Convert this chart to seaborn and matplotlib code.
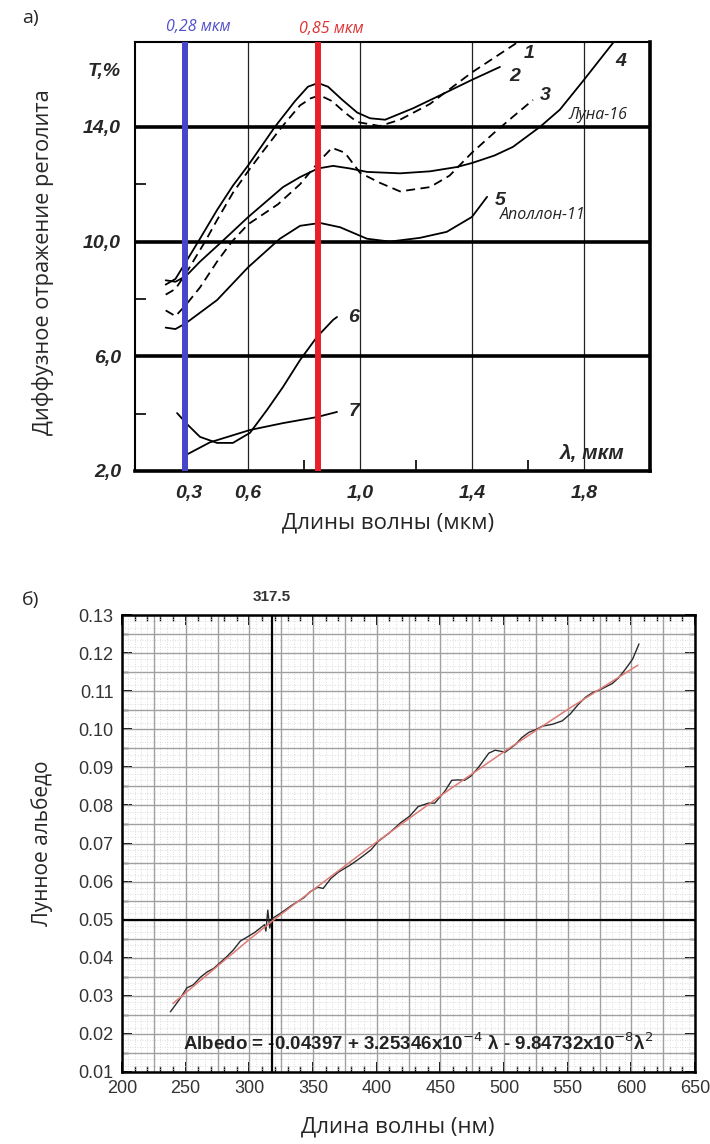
import numpy as np
import matplotlib
matplotlib.use("Agg")
import matplotlib.pyplot as plt
import seaborn as sns

# ---- panel a) : diffuse reflectance of regolith, wavelength in um, T in %
c1_x = [0.18, 0.23, 0.284, 0.381, 0.442, 0.523, 0.60, 0.65, 0.721, 0.786, 0.825, 0.857, 0.90, 0.946, 0.99, 1.071, 1.143, 1.25, 1.40, 1.56]
c1_y = [8.15, 8.35, 8.9, 10.0, 10.75, 11.7, 12.45, 13.1, 14.0, 14.75, 15.0, 15.1, 14.9, 14.5, 14.17, 14.03, 14.25, 14.8, 15.9, 16.93]

c2_x = [0.18, 0.23, 0.284, 0.355, 0.442, 0.523, 0.60, 0.65, 0.696, 0.768, 0.814, 0.85, 0.886, 0.936, 0.99, 1.036, 1.09, 1.19, 1.286, 1.40, 1.50]
c2_y = [8.5, 8.7, 9.3, 10.1, 11.1, 11.95, 12.65, 13.35, 14.0, 14.9, 15.4, 15.53, 15.4, 14.95, 14.5, 14.3, 14.25, 14.65, 15.1, 15.64, 16.09]

c3_x = [0.18, 0.23, 0.284, 0.355, 0.442, 0.518, 0.60, 0.707, 0.786, 0.85, 0.90, 0.946, 1.0, 1.071, 1.143, 1.25, 1.32, 1.40, 1.48, 1.546, 1.618]
c3_y = [7.6, 7.4, 7.8, 8.4, 9.3, 10.0, 10.6, 11.3, 12.0, 12.75, 13.27, 13.1, 12.4, 12.05, 11.75, 11.9, 12.3, 13.1, 13.8, 14.35, 14.94]

c4_x = [0.18, 0.23, 0.284, 0.355, 0.467, 0.60, 0.725, 0.786, 0.85, 0.904, 0.964, 1.025, 1.143, 1.25, 1.346, 1.40, 1.48, 1.546, 1.643, 1.714, 1.80, 1.904]
c4_y = [8.65, 8.6, 8.8, 9.3, 10.0, 10.85, 11.9, 12.25, 12.55, 12.64, 12.55, 12.43, 12.38, 12.45, 12.6, 12.74, 13.0, 13.3, 14.0, 14.6, 15.64, 16.93]

c5_x = [0.18, 0.23, 0.284, 0.442, 0.60, 0.714, 0.786, 0.857, 0.929, 1.025, 1.107, 1.214, 1.31, 1.40, 1.454]
c5_y = [7.0, 6.95, 7.16, 7.96, 9.1, 10.1, 10.55, 10.65, 10.5, 10.1, 10.0, 10.13, 10.34, 10.86, 11.56]

c6_x = [0.238, 0.294, 0.355, 0.442, 0.523, 0.607, 0.668, 0.725, 0.786, 0.846, 0.904, 0.918]
c6_y = [4.02, 3.6, 3.19, 2.98, 2.98, 3.33, 4.13, 4.93, 5.87, 6.67, 7.27, 7.37]

c7_x = [0.284, 0.406, 0.607, 0.725, 0.846, 0.918]
c7_y = [2.56, 3.0, 3.43, 3.67, 3.88, 4.06]

curve_names = ["1", "2", "3", "4", "5", "6", "7"]
name_x = [1.585, 1.535, 1.643, 1.911, 1.482, 0.957, 0.961]
name_y = [16.55, 15.75, 15.1, 16.27, 11.45, 7.34, 4.06]

a_xticks = [0.3, 0.6, 1.0, 1.4, 1.8]
a_xlabels = ["0,3", "0,6", "1,0", "1,4", "1,8"]
a_yticks = [2, 6, 10, 14, 16]
a_ylabels = ["2,0", "6,0", "10,0", "14,0", "T,%"]
marks_um = [0.28, 0.85]

# ---- panel b) : lunar albedo vs wavelength (nm)
meas_nm = [238, 245, 251, 256, 262, 267, 272, 277, 282, 287.6, 293, 298.6, 304, 309, 312, 313, 314.5, 316, 318,
           325, 333, 343, 348, 353.8, 358, 364, 370, 380, 388, 395.7, 401, 410, 419, 426, 432.6, 440.7, 445.6,
           453.5, 459, 464, 469, 474, 480, 488, 493, 501, 509, 514, 519.6, 525, 530, 538, 545.7, 552, 558,
           564, 570, 575, 585, 590, 595.4, 601, 606]
meas_alb = [0.0258, 0.0290, 0.0321, 0.0329, 0.0350, 0.0363, 0.0372, 0.0387, 0.0402, 0.0421, 0.0444, 0.0455,
            0.0466, 0.0479, 0.0487, 0.0470, 0.0525, 0.0478, 0.0503, 0.0518, 0.0537, 0.0558, 0.0574, 0.0585,
            0.0582, 0.0608, 0.0625, 0.0645, 0.0664, 0.0684, 0.0705, 0.0728, 0.0755, 0.0772, 0.0797, 0.0806,
            0.0806, 0.0837, 0.0866, 0.0867, 0.0866, 0.0877, 0.0900, 0.0937, 0.0945, 0.0940, 0.0960, 0.0978,
            0.0992, 0.0999, 0.1008, 0.1013, 0.1022, 0.1040, 0.1064, 0.1084, 0.1097, 0.1103, 0.1120, 0.1135,
            0.1158, 0.1184, 0.1224]
fit_nm = [240, 300, 317.5, 350, 400, 450, 500, 550, 605]
fit_alb = [0.0280, 0.0448, 0.0495, 0.0578, 0.0704, 0.0825, 0.0941, 0.1052, 0.1168]
cross_nm = 317.5
cross_alb = 0.05

sns.set_style("white")
plt.rcParams['font.family'] = ['Open Sans', 'DejaVu Sans']
narrow = ['Liberation Sans Narrow', 'Liberation Sans', 'DejaVu Sans']
arial = ['Liberation Sans', 'DejaVu Sans']

fig = plt.figure(figsize=(7.1, 11.44), dpi=100)
ax1 = fig.add_axes([135 / 710, 1 - 471 / 1144, 515 / 710, 429 / 1144])
ax2 = fig.add_axes([122 / 710, 1 - 1072 / 1144, 573 / 710, 457 / 1144])

# the scanned graph squeezes the axis below 0.6 um
def fwd(x):
    return np.interp(x, [0.0, 0.6, 3.0], [0.18, 0.6, 3.0])

def inv(u):
    return np.interp(u, [0.18, 0.6, 3.0], [0.0, 0.6, 3.0])

ax1.set_xscale('function', functions=(fwd, inv))

curves = [(c1_x, c1_y, True), (c2_x, c2_y, False), (c3_x, c3_y, True), (c4_x, c4_y, False),
          (c5_x, c5_y, False), (c6_x, c6_y, False), (c7_x, c7_y, False)]
for xs, ys, dashed in curves:
    sns.lineplot(x=xs, y=ys, ax=ax1, color='black', lw=1.3,
                 linestyle=(0, (5, 3)) if dashed else '-', zorder=4)

for h in [6, 10, 14]:
    ax1.axhline(h, color='black', lw=2.6, zorder=3)
for v in [0.6, 1.0, 1.4, 1.8]:
    ax1.axvline(v, color='#222222', lw=0.9, zorder=2)

ax1.axvline(marks_um[0], color='#4646c8', lw=4.3, zorder=5)
ax1.axvline(marks_um[1], color='#e8202a', lw=4.3, zorder=5)
ax1.annotate("0,28 мкм", (marks_um[0], 1.035), xycoords=ax1.get_xaxis_transform(),
             xytext=(9.5, 0), textcoords='offset points', color='#5050c8',
             style='italic', fontsize=11.5, ha='center', va='center')
ax1.annotate("0,85 мкм", (marks_um[1], 1.03), xycoords=ax1.get_xaxis_transform(),
             xytext=(9.5, 0), textcoords='offset points', color='#e03030',
             style='italic', fontsize=11.5, ha='center', va='center')

for name, nx, ny in zip(curve_names, name_x, name_y):
    ax1.text(nx, ny, name, family=narrow, weight='bold', style='italic', fontsize=14,
             ha='left', va='center')
ax1.text(1.85, 14.42, "Луна-16", style='italic', fontsize=11.5, ha='center', va='center', color='#222222')
ax1.text(1.654, 10.93, "Аполлон-11", style='italic', fontsize=11.5, ha='center', va='center', color='#222222')
ax1.text(1.83, 2.6, "λ, мкм", family=narrow, weight='bold', style='italic', fontsize=15,
         ha='center', va='center')

ax1.set_xlim(0.0234, 2.036)
ax1.set_ylim(2, 16.96)
ax1.set_xticks(a_xticks)
ax1.set_xticklabels(a_xlabels, family=narrow, weight='bold', style='italic', fontsize=14)
ax1.set_yticks(a_yticks)
ax1.set_yticklabels(a_ylabels, family=narrow, weight='bold', style='italic', fontsize=14)
ax1.set_xticks([0.8, 1.2, 1.6], minor=True)
ax1.set_yticks([4, 8, 12, 16], minor=True)
ax1.tick_params(which='major', length=0, pad=10)
ax1.tick_params(which='minor', direction='in', length=8, width=1.2, color='black')
ax1.tick_params(axis='x', which='minor', bottom=True)
ax1.tick_params(axis='y', which='minor', left=True)
for side, w in [('left', 1.5), ('top', 1.5), ('bottom', 2.6), ('right', 2.6)]:
    ax1.spines[side].set_color('black')
    ax1.spines[side].set_linewidth(w)
ax1.set_xlabel("")
ax1.set_ylabel("")

fig.text(22 / 710, 1 - 18 / 1144, "а)", fontsize=14, ha='left', va='center')
fig.text(43 / 710, 1 - 262 / 1144, "Диффузное отражение реголита", rotation=90, fontsize=15.7,
         ha='center', va='center')
fig.text(388 / 710, 1 - 523 / 1144, "Длины волны (мкм)", fontsize=16, ha='center', va='center')

# ---- panel b)
for v in np.arange(200, 651, 5):
    ax2.axvline(v, color='#d2d2d2', lw=0.6, ls=(0, (1, 2)), zorder=1)
for h in np.arange(0.01, 0.1301, 0.005 / 3):
    ax2.axhline(h, color='#d2d2d2', lw=0.6, ls=(0, (1, 2)), zorder=1)
for v in np.arange(200, 651, 25):
    ax2.axvline(v, color='#a0a0a0', lw=1.0, zorder=1)
for h in np.arange(0.01, 0.1301, 0.005):
    ax2.axhline(h, color='#a0a0a0', lw=1.0, zorder=1)

ax2.text(248, 0.0176, r"Albedo = -0.04397 + 3.25346x10$^{-4}$ λ - 9.84732x10$^{-8}$λ$^{2}$",
         family=arial, weight='bold', fontsize=13.5, color='#222222', ha='left', va='center', zorder=2)

ax2.axvline(cross_nm, color='black', lw=1.6, zorder=3)
ax2.axhline(cross_alb, color='black', lw=1.6, zorder=3)
sns.lineplot(x=meas_nm, y=meas_alb, ax=ax2, color='#2a2a2a', lw=1.0, zorder=4)
sns.lineplot(x=fit_nm, y=fit_alb, ax=ax2, color='#e07a74', lw=1.1, zorder=5)

ax2.text(cross_nm, 1.04, "317.5", transform=ax2.get_xaxis_transform(), family=arial, weight='bold',
         fontsize=11, color='#333333', ha='center', va='center')

ax2.set_xlim(200, 650)
ax2.set_ylim(0.01, 0.13)
ax2.set_xticks(np.arange(200, 651, 50))
ax2.set_xticks(np.arange(200, 651, 10), minor=True)
ax2.set_yticks(np.arange(0.01, 0.1301, 0.01))
ax2.set_yticks(np.arange(0.01, 0.1301, 0.005), minor=True)
ax2.set_xticklabels([f"{v:d}" for v in range(200, 651, 50)], family=arial, fontsize=13, color='#333333')
ax2.set_yticklabels([f"{v:.2f}" for v in np.arange(0.01, 0.1301, 0.01)], family=arial, fontsize=13,
                    color='#333333')
ax2.tick_params(which='both', direction='in', top=True, right=True, bottom=True, left=True, color='black')
ax2.tick_params(which='major', length=7, width=1.4, pad=6)
ax2.tick_params(which='minor', length=4, width=1.0)
for side in ['left', 'top', 'bottom', 'right']:
    ax2.spines[side].set_color('black')
    ax2.spines[side].set_linewidth(1.8)
ax2.set_xlabel("")
ax2.set_ylabel("")

fig.text(22 / 710, 1 - 600 / 1144, "б)", fontsize=14, ha='left', va='center')
fig.text(42 / 710, 1 - 843 / 1144, "Лунное альбедо", rotation=90, fontsize=15, ha='center', va='center')
fig.text(398 / 710, 1 - 1127 / 1144, "Длина волны (нм)", fontsize=16, ha='center', va='center')

fig.savefig("out.png", dpi=100)
